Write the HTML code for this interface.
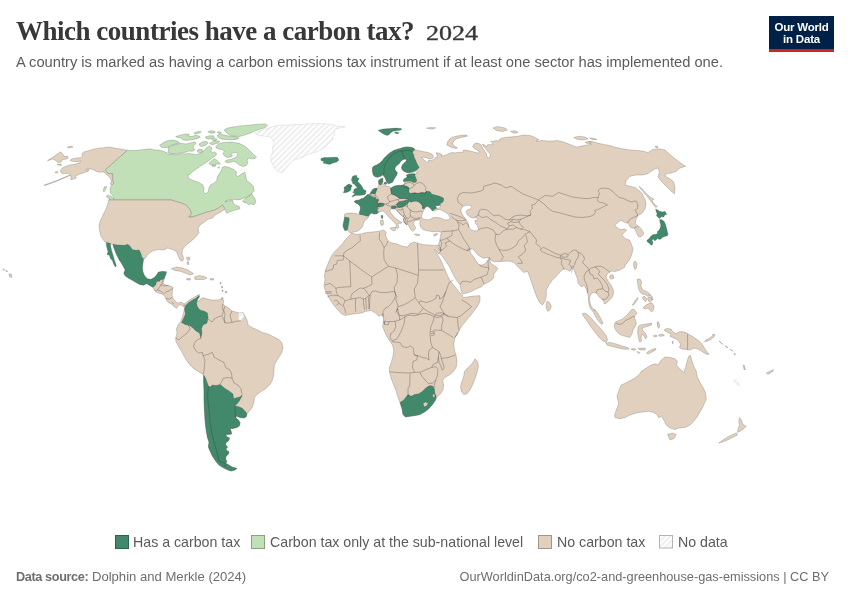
<!DOCTYPE html>
<html><head><meta charset="utf-8">
<style>
html,body{margin:0;padding:0;background:#fff;}
body{width:850px;height:600px;position:relative;overflow:hidden;font-family:"Liberation Sans",sans-serif;}
#title{position:absolute;left:16px;top:14px;font-family:"Liberation Serif",serif;font-weight:bold;font-size:27px;color:#383838;white-space:nowrap;letter-spacing:-0.49px;line-height:34px;}
#sub{position:absolute;left:16px;top:52px;font-size:14.7px;color:#5b5b5b;white-space:nowrap;line-height:20px;}
#logo{position:absolute;left:769px;top:16px;width:65px;height:33px;background:#002147;border-bottom:3px solid #ce261e;color:#fff;font-weight:bold;font-size:11.5px;line-height:12.1px;letter-spacing:-0.2px;text-align:center;box-sizing:content-box;}
#logo span{display:block;}
.leg{position:absolute;top:533px;font-size:14.2px;color:#5b5b5b;white-space:nowrap;line-height:18px;}
.sw{position:absolute;top:535px;width:14px;height:13.5px;box-sizing:border-box;border:1px solid #c9c9c9;}
#src{position:absolute;left:16px;top:569px;font-size:13.1px;color:#6e6e6e;white-space:nowrap;line-height:16px;}
#url{position:absolute;right:21px;top:569px;font-size:12.75px;color:#6e6e6e;white-space:nowrap;line-height:16px;}
#map{position:absolute;left:0;top:0;}
</style></head><body>
<svg id="map" width="850" height="600" viewBox="0 0 850 600">
<defs>
<pattern id="hatch" width="4" height="4" patternUnits="userSpaceOnUse" patternTransform="rotate(45)"><rect width="4" height="4" fill="#fff"/><line x1="1" y1="0" x2="1" y2="4" stroke="#e3e3e3" stroke-width="1.1"/></pattern>
</defs>
<!--MAP-->
<g stroke="#3a3a3a" stroke-opacity="0.45" stroke-width="0.5" stroke-linejoin="round">
<path d="M47.47,160.62 51.35,158.29 55.88,155.06 60.8,151.82 63,154.41 63.91,156.35 67.53,156.35 68.18,158.29 64.94,159.33 61.71,160.24 61.06,162.18 57.82,162.44 55.24,160.24 52.65,158.94 49.41,160.24Z" fill="#e1d0be"/>
<path d="M57.18,164.12 61.06,164.12 61.32,165.41 57.82,165.02Z" fill="#e1d0be"/>
<path d="M55.24,171.88 57.82,171.5 57.82,172.79 55.62,173.05Z" fill="#e1d0be"/>
<path d="M67.53,146.91 72.06,146 72.71,147.29 68.18,147.94Z" fill="#e1d0be"/>
<path d="M127.32,150.27 120.59,148.98 114.12,147.94 108.94,146.91 103.77,147.68 98.59,148.2 93.41,149.24 88.24,150.79 83.71,152.08 81.77,153.77 82.41,155.71 81.12,157.65 76.59,158.04 71.41,158.94 70.12,160.62 73.35,161.53 77.88,161.53 80.47,160.88 79.83,162.82 75.3,164.12 70.12,165.02 65.59,166.32 62.35,168 60.41,170.2 60.8,172.53 63,173.82 66.24,173.18 68.82,173.82 70.77,175.12 67.53,176.67 63.65,178.35 59.12,180.3 53.94,182.24 48.77,184.18 44.24,185.73 44.49,184.83 49.41,183.14 54.59,181.33 59.77,179.26 64.94,177.06 68.82,175.38 71.41,176.41 70.77,179.65 74,179 76.59,177.45 75.3,176.15 78.53,174.47 81.77,173.57 84.35,172.53 88.24,171.24 88.88,169.68 85.65,169.94 86.94,168.91 90.83,168.91 93.41,169.68 96,171.24 99.24,172.27 103.12,171.88 104.41,172.53 106.36,174.47 108.94,176.41 110.89,179 111.27,181.59 110.24,184.18 112.83,184.83 114.12,182.88 112.83,180.3 112.83,176.41 112.57,173.57 109.59,173.57 107,172.53 105.06,170.2Z" fill="#e1d0be"/>
<path d="M135,150.5 143.75,149.5 150,148.75 155,150.02 158.88,150.02 162.76,151.06 166.65,152.61 167.94,154.68 171.82,153.91 175.71,154.94 178.94,154.3 181.53,153.39 185.41,153.91 188.91,153.39 192.53,153.91 195.77,154.68 199,153.91 201.59,152.35 204.83,150.02 206.77,147.44 209.35,145.88 211.94,147.82 210.91,151.06 212.59,153 214.53,151.71 216.86,153.91 214.53,156.5 211.3,158.57 208.06,161.15 204.18,163.74 200.3,166.33 196.41,168.92 192.53,171.77 188.91,175 187.5,174.67 189.17,178.83 193.33,180.5 198.33,182.17 202.5,184.67 204.17,188 203.33,192.17 205.83,193.83 208.33,191.33 209.17,187.17 210.83,184.67 214.17,183 216.67,180.5 217.5,176.33 220.83,171.33 222.5,167.17 225,166.33 230,167.67 234.17,169.67 236.67,172.17 235.83,175.5 238.33,176.33 241.67,173.83 245,172.17 245.83,176.33 246.67,180.5 250,183 253.33,186.33 254.17,190.5 251.67,193.83 248.33,196.33 244.17,198 240,199.67 236.67,199.67 233.33,199.33 228.33,200 225,201.67 228.33,201 232.5,200 233.33,203 235.83,205.5 239.17,206.33 240,208.83 235,210 230,211.67 226.67,213.33 225.33,210.67 224.17,208 222.5,205 220,207 215,210 207.5,212 200,214.5 192.5,217 188.75,217 191.25,213.75 190,209.5 186.25,205 181.25,203 175,201.25 171.25,200 108.75,200 114.12,198.41 112.83,195.83 110.5,193.24 109.98,189.35 110.89,186.12 114.12,182.88 112.83,180.3 112.83,176.41 112.57,173.57 109.59,173.57 107,172.53 105.06,170.2 127.32,150.27Z" fill="#c1e0b8"/>
<path d="M106.36,195.83 108.94,195.18 112.18,197.12 114.12,200.36 114.77,202.3 112.83,201.65 109.59,199.06 107.39,197.77Z" fill="#c1e0b8"/>
<path d="M103.12,190.65 104.41,186.77 106.61,186.51 105.71,189.35 104.03,191.94Z" fill="#c1e0b8"/>
<path d="M159.53,145.24 162.76,143.04 167.29,140.71 173.12,140.06 177.65,141.35 179.59,142.65 175.71,143.94 171.18,145.24 167.94,147.18 164.71,147.82 161.47,147.18Z" fill="#c1e0b8"/>
<path d="M167.94,147.82 171.18,145.88 175.71,144.59 180.88,143.29 186.06,143.94 191.24,142.65 195.12,142 196.15,143.29 193.82,145.24 193.18,147.82 195.12,149.77 192.53,151.32 188.65,151.06 185.41,152.35 181.53,152.61 178.29,153.39 174.41,153.91 170.53,153.65 167.94,153 168.59,150.41Z" fill="#c1e0b8"/>
<path d="M175.71,136.57 180.88,134.88 186.06,133.98 189.3,134.24 188,135.79 191.88,136.57 195.12,135.27 198.35,135.79 200.3,137.08 197.71,138.38 193.82,139.41 189.94,140.06 186.06,140.45 182.82,139.67 180.88,138.12 177.65,137.47Z" fill="#c1e0b8"/>
<path d="M193.82,132.94 198.35,131.39 201.33,131.65 199.65,132.94 195.77,133.98Z" fill="#c1e0b8"/>
<path d="M208.06,131.65 211.3,130.61 214.79,131.39 215.18,132.68 211.94,133.2 209.35,132.94Z" fill="#c1e0b8"/>
<path d="M217.12,132.29 219.71,131.39 221.65,132.94 219.06,133.72Z" fill="#c1e0b8"/>
<path d="M205.47,136.82 209.35,135.79 213.24,135.79 214.53,137.47 211.94,138.77 208.71,139.15 206.12,138.38Z" fill="#c1e0b8"/>
<path d="M211.94,139.41 214.79,138.38 217.12,139.15 215.83,140.45 213.24,140.71Z" fill="#c1e0b8"/>
<path d="M199,143.94 202.24,142 206.12,141.35 208.06,142.65 206.77,144.59 204.18,145.88 201.59,146.53 199.65,145.62Z" fill="#c1e0b8"/>
<path d="M209.35,143.55 212.59,141.74 216.47,140.71 219.71,141.35 218.41,143.04 215.18,143.94 211.94,144.85Z" fill="#c1e0b8"/>
<path d="M197.06,150.41 199.65,149.12 202.24,149.77 202.63,151.71 200.3,152.61 197.71,152.1Z" fill="#c1e0b8"/>
<path d="M217.12,135.27 220.36,134.24 224.88,135.27 230.06,136.18 235.24,136.82 239.12,138.12 236.53,139.41 231.36,139.67 226.18,139.41 221.65,139.15 218.41,137.86Z" fill="#c1e0b8"/>
<path d="M224.24,129.71 227.47,128.02 232.65,127.12 237.83,126.21 245.59,125.44 253.36,124.66 259.83,124.14 265,123.88 267.59,125.18 265,127.76 259.83,129.32 254.65,131 250.77,132.94 246.89,134.24 243,135.53 239.12,136.57 233.94,136.18 230.06,135.27 227.47,133.59 225.53,131.91Z" fill="#c1e0b8"/>
<path d="M215.83,146.53 218.41,143.94 222.3,142.65 226.83,142.26 231.36,142 235.24,142.65 239.12,143.29 243,145.24 246.24,147.18 248.83,149.77 251.42,152.35 254,154.94 256.59,156.88 254.65,158.82 251.42,158.57 248.18,158.18 247.14,160.38 247.92,163.35 246.24,165.55 243,166.59 239.77,165.3 237.18,163.35 234.59,161.41 231.36,162.06 227.47,162.71 224.88,161.67 226.83,160.12 230.71,159.47 233.94,158.18 237.18,156.24 237.83,153.91 235.89,152.35 232.65,153 230.71,154.94 232.65,155.59 231.36,156.88 227.47,157.53 224.88,156.24 222.94,153.91 224.24,151.06 222.3,149.51 219.06,149.12 216.47,148.21Z" fill="#c1e0b8"/>
<path d="M208.71,163.35 211.94,160.38 214.53,158.82 217.12,160.38 219.71,162.97 220.36,164.26 217.12,164 213.88,164.65 210.65,165.04Z" fill="#c1e0b8"/>
<path d="M211.94,165.55 215.83,165.04 215.18,166.33 212.59,166.85Z" fill="#c1e0b8"/>
<path d="M217.77,167.24 219.45,166.85 219.06,168.53Z" fill="#c1e0b8"/>
<path d="M242.5,201.33 245.83,198 250,195.5 251.67,193.83 253.33,196.33 255,198.83 255.83,202.17 254.17,204.67 250.83,203.83 249.17,205 246.67,203 244.17,202.67Z" fill="#c1e0b8"/>
<path d="M278.24,125.29 288.82,125.06 299.41,124.47 311.18,123.65 322.94,123.65 332.35,124.47 337.06,126 345.29,126.82 339.41,128 335.29,129.18 334.12,132.12 334.71,135.06 332.35,136.82 332.94,139.76 330,141.53 327.65,144.47 325.29,147.41 320.59,149.76 315.88,152.12 311.18,153.29 306.47,155.06 301.76,157.41 297.06,159.18 292.94,160.35 290,163.29 287.65,166.24 285.29,169.18 282.94,172.12 280.59,172.71 277.65,170.94 274.71,168.59 272.94,165.06 271.18,161.53 270.59,158 271.76,154.47 272.94,150.94 272.35,147.41 274.12,144.47 273.53,141.53 271.76,138.59 269.41,136.82 265.29,136.24 260.59,135.65 255.88,134.47 254.71,132.71 258.24,131.53 262.94,129.76 268.82,128 273.53,126.47Z" fill="url(#hatch)" stroke="#d2d2d2" stroke-opacity="1"/>
<path d="M108.75,200 171.25,200 175,201.25 181.25,203 186.25,205 190,209.5 191.25,213.75 188.75,217 192.5,217 200,214.5 207.5,212 215,210 220,207 222.5,205 225,208.75 223.75,210 220,212.5 215,215 212.5,218 207.5,219.5 203.75,222.5 200,225 198,228.75 199,232.5 196.25,236.25 192.5,240 188.75,243 185,246.25 182.5,249.5 182,253.75 183.75,258.75 182.5,261.25 180,260 178,255.5 176.25,251.25 172.5,249.5 167.5,248 163.75,250 158.75,249.5 153.75,250.5 150,252.5 147,255.5 145,258.75 143,258.75 141,255.5 139,252 135,251.5 131.25,249 128.75,246.5 122.5,246.5 115,246 112.5,244.5 108.75,243.5 105,242 102.5,238.75 100.5,235 99.5,230 99,225 100.5,220 103,215 105.5,210 107.5,205Z" fill="#e1d0be"/>
<path d="M106.33,242.5 110.33,243.33 110.83,246.67 111.67,250.83 113,255 114.17,259.17 115.33,262.5 116.33,265.83 115.33,267 113.67,264.17 112.5,260.83 110.33,258.33 109.17,255 107,254.67 108,251.67 107,248.33 106.33,245.33Z" fill="#41896a"/>
<path d="M113,244.17 117.5,245 125,245.33 127.5,244.17 129.67,245.83 132.5,249.67 135.83,250.33 139.17,250 140.83,253.33 141.67,256.67 143.67,259.17 143,263.33 142.5,267.5 143,271.67 144.67,275.83 147.5,278.67 150.83,279.17 154.17,277.5 156.67,274.67 158.33,272 162.5,271.33 166.67,271.67 165.83,274.67 164.67,277.5 164.17,279.17 162.5,279.17 160.33,279.67 160,281.33 156.67,281.67 155.83,285 153,287.5 150,285.83 146.67,283.67 143.67,285.33 140,284.67 135.83,282.5 131.67,280 128,278 125,275.83 123.67,273.33 125,270 123.33,266.67 121.33,263.33 119.17,260 117.5,256.67 115.83,253.33 114.67,250 113.33,246.67Z" fill="#41896a"/>
<path d="M153,287.5 155.83,285 156.67,281.67 160,281.33 160.33,279.67 162.5,279.17 164.17,279.17 163,283.33 165.83,285 170,285.83 173,287.5 172.5,290.83 172,294.17 172.5,297.5 174.17,300 175.83,302 178.33,303 180.83,302 183,303 184.67,304.67 184.17,307 182.5,305.83 180,304.67 178.33,305.83 176.67,308.33 174.17,306.67 171.67,304.17 168.33,302.5 166.33,300 165,296.67 162.5,294.17 158.33,293 155,291.33Z" fill="#e1d0be"/>
<path d="M171.25,268.75 176.25,267 182.5,268 188.75,270.5 193.75,273.75 190,275 185,273 180,271.25 175,270.5Z" fill="#e1d0be"/>
<path d="M194.5,277 198.75,275.5 203.75,276.25 207,278 203.75,279.5 198.75,279.5 195,279.5Z" fill="#e1d0be"/>
<path d="M186.25,278.75 190,278.25 190.5,280 187,280Z" fill="#e1d0be"/>
<path d="M210,278.75 213.5,278.5 213.5,280 210.25,280Z" fill="#e1d0be"/>
<path d="M186.25,257.5 189.5,257 190,259.5 187.5,260.5Z" fill="#e1d0be"/>
<path d="M187,262 188.5,261.75 188.75,264.5 187.5,264.5Z" fill="#e1d0be"/>
<path d="M2.5,269 4.5,269.5 4,270.5Z" fill="#e1d0be"/>
<path d="M5.5,270.5 7.5,271 7,272Z" fill="#e1d0be"/>
<path d="M9,273.75 11.5,274.5 11.75,277.5 9.5,277Z" fill="#e1d0be"/>
<path d="M220,282.5 221,282.5 221,284 220,284Z" fill="#e1d0be"/>
<path d="M221.5,286.25 222.5,286.25 222.5,288 221.5,288Z" fill="#e1d0be"/>
<path d="M222,290 223,290 223,291.5 222,291.5Z" fill="#e1d0be"/>
<path d="M225.25,291.5 227,291.25 227,293 225.5,293Z" fill="#e1d0be"/>
<path d="M221,298 223,297.5 223.25,299.25 221.25,299.5Z" fill="#e1d0be"/>
<path d="M185,303.6 188,301 192,298.4 197,295.6 199.6,294.4 199,297 197,299.6 198,301.6 200.4,299 203,297.6 207,299 212,300 218,300 222,299 224,301 223,304 225,306 229,308 232,311 236,312 239,313 243,312.4 245,316 247,320 248,325 252,327.6 258,330 262,332.4 268,334 274,337 279,339.6 282,343 283,348 281.6,353 279,357 276.4,361 274.4,365 274,370 273.6,376 272,381 269.6,385 266,388.4 261,391.6 257,394.4 254.4,397.6 254,402 252.4,407 249.6,411 247,413.6 246.4,416.4 244,418 240,417.6 236.4,416 235.6,418 238,419.6 240,422.4 239.6,425.6 237,427.6 233,428.4 230,428.4 231,431 231.6,434 228.4,434.4 225.6,434.4 227,437 229.6,438 228.4,441 226,442.4 225.6,445 227.6,447 226,449 227,451 229,451.6 228.4,454 226,456.4 225.6,459 227,462 225,463 228,464.4 232,467 237,468.4 235,470 231,471 227,469.6 223,467.6 219,465 215.6,461 212.4,456 210,451 208.4,447 209,442 207.6,438 206.4,432 205.6,426 205,420 204.4,410 204,400 204,390 203.6,382 203.6,375 202.4,374 199,372 194,369 190,365 187,361 184,356 181,350.4 178.4,346 176,342 175.6,338 177,333 176.4,329 178,325 180.4,322 182,318 183.6,313 184.4,308 184,304Z" fill="#e1d0be"/>
<path d="M198.75,295.5 196.25,298 192.5,300 188.75,302.5 185.5,305.5 184.5,309.5 185.5,313.75 183.75,318 181.5,322.5 185,324.5 189.5,325.5 193,328 196.25,331.25 199.5,333 200.75,338 202,333.75 201.5,328.75 203,325 207,323 208,318 207.5,313 204.5,311.25 200,310 197.5,307 196.5,303 197.5,299.5 199.5,297Z" fill="#41896a"/>
<path d="M239,313 243,312.4 244,317 241,321 239,320 238,317Z" fill="url(#hatch)" stroke="#d2d2d2" stroke-opacity="1"/>
<path d="M203.6,375 205.6,378 207,382 208.4,386 210,387 212.4,385 216,385.6 220.4,384.4 222,386 225,388.4 229,391 233,394 233.6,398.4 236,398 239.6,397 242.4,395 241,398 239,401.6 236.4,404.4 235,406 238,406.4 242,408 245,411 247,413.6 246.4,416.4 244,418 240,417.6 236.4,416 235.6,418 238,419.6 240,422.4 239.6,425.6 237,427.6 233,428.4 230,428.4 231,431 231.6,434 228.4,434.4 225.6,434.4 227,437 229.6,438 228.4,441 226,442.4 225.6,445 227.6,447 226,449 227,451 229,451.6 228.4,454 226,456.4 225.6,459 227,462 225,463 228,464.4 232,467 237,468.4 235,470 231,471 227,469.6 223,467.6 219,465 215.6,461 212.4,456 210,451 208.4,447 209,442 207.6,438 206.4,432 205.6,426 205,420 204.4,410 204,400 204,390 203.6,382Z" fill="#41896a"/>
<path d="M344.25,214.38 347.38,213.12 351.75,213.12 355.5,213.5 359.88,214.38 359.25,212.75 360.25,210 360.5,207.25 359.25,205 357.38,203.75 355.25,202.75 354.25,201.25 356.75,200.25 359.25,200 361.12,198.75 363,198.5 364.88,196.88 367.38,194.75 369.25,194.38 370.5,192.5 372,190.25 374.25,188.5 376.75,188.5 378,187.5 378.62,185.62 378.62,182.5 378.62,182.5 378.62,180 380.5,178.75 382.38,178.12 383,180 382.38,181.88 383,183.75 384.25,185.25 386.12,186 389.25,186.5 391.12,188.12 394.25,186.25 398,185.62 401.12,185.62 404.25,185 404.5,182.5 403.25,181.25 404,179 406.12,178.12 407.38,176.88 406.5,175 409.25,174 412.75,173.75 415.25,174 417.5,173.12 415.62,171.5 411.88,172.5 407.5,172.75 410.5,172.25 406.75,172.5 404.25,171.5 402.38,170 401.5,167.5 402.38,165 404.25,163.12 406.12,161.25 406.75,159.75 404.88,159 402.75,159.75 400.5,161.5 399.25,163.5 397,165.25 395.25,167.25 394.88,169.38 396.12,171.25 397.38,173.12 396.5,175.62 394.88,177.75 393.62,180 392.75,181.88 390.5,183.12 388.62,183.75 387,182.5 386.12,180.62 385.25,178.12 384,176.25 383,174.75 381.75,175.62 379.88,176.5 377.38,177.25 374.88,176.5 373.25,175 372.75,172.5 372.38,170 372.38,168.12 373.62,166.25 376.75,165 379.88,163.12 382.38,160.62 384.25,158.12 386.12,156.25 388,154.38 390.5,152.5 393.62,150.62 396.75,149.38 400.5,148.5 403,147.5 406.75,146.88 410.5,147.25 413.62,148.12 414.88,149.75 418.75,150.62 423.12,151.5 428.12,152.5 431.88,154 433.5,156 432.75,158.12 430.62,159 428.12,158.5 425.62,157.5 423.12,157.25 421.25,157.5 423.12,159 425,160.62 426.88,162.5 428.75,161.88 428.5,160.25 431.25,160.62 433.5,159.38 435.25,157.5 437.5,156.88 436.88,154.75 436.25,152.75 438.75,153.12 441.88,154.38 441.25,156.25 443.75,155.62 446.88,154.38 450,153.12 453.12,152.25 454.38,153.12 457.5,152.5 461.25,152.25 463.75,151.88 463.12,150.38 465,150 468.12,150.62 471.25,151.25 475,152.25 478.12,153.12 479.38,151.88 476.88,150 474.38,148.5 472.5,146.88 473.75,144.38 475.62,143.12 478.75,143.5 481.25,145 482.5,148.12 484.38,150.62 486.25,153.12 486.88,156.25 488.12,158.12 490,156.88 490.25,154.38 488.75,152.25 486.88,150.62 485.25,148.12 483.5,146.25 482.5,144 484.75,145 486.25,146.5 487.5,144.75 490,144.38 493.12,145 492.5,143.12 490.62,141.5 493.12,141.25 496.25,140.62 498.75,141.25 499.38,139.38 501.88,138.12 506,137.25 510,137 517.5,136.25 523.75,135 530,135.5 535,137.5 538.75,139.5 536.25,141.25 542.5,140.5 550,141.25 557.5,140.5 563.75,142 570,144.5 576.25,147 581.25,146.25 586.25,145 591.25,144.5 587.5,142 591.25,141.25 597.5,143 603.75,144.5 610,145.5 616.25,147.5 622.5,148.75 630,150 637.5,150.5 643.75,151.25 648,152.5 652.5,149.5 658.75,148.75 665,150 670,154.5 675,158.75 680,162.5 685.5,166.25 680,168 676.25,171.25 671.25,173 666.25,173.75 665,176.25 670,178.75 673.75,182 675,187.5 674.5,193.75 671.25,191.25 667.5,187.5 663.75,183.75 660.5,180.5 658,177 659.5,172 658,168 655,168.75 651.25,171.25 647.5,173.75 642.5,175 636.25,175 630,176.25 626.25,180.5 625,185 630,186.25 635,187.5 640,191.25 641.92,193.33 643.44,196.25 645.07,199.75 646,203.25 645.77,206.17 644.84,209.09 643.09,212 641.34,213.75 639,214.92 637.6,215.74 637.25,217.25 636.09,219.59 635.27,221.92 635.74,223.9 637.25,225.42 639,226.59 640.75,228.34 642.5,230.67 643.67,233 643.09,234.75 641.34,236.5 639,237.09 637.25,234.75 636.09,231.84 634.92,229.5 634.1,227.75 632,228.34 630.25,227.17 629.09,224.84 627.34,223.09 625,222.5 622.67,221.34 620.57,220.4 618.58,221.92 616.25,223.9 614.73,225.77 616.83,227.17 619.17,228.92 621.5,229.5 624.42,228.92 626.75,230.09 625,231.84 623.25,233.59 622.08,235.34 623.84,237.09 625.59,238.84 629.5,240 631.25,243.75 633,248.75 632,253.75 630,258.75 627.5,262.5 625,265 625,267 620,270 615,271.6 612,271 610,272 607,274 606,277 608,281 611,285 613,289 613.6,293 612.4,297 609.6,300 606.4,303 604.4,304 603.6,301 602,299 599.6,297.6 598,295 596,293 593.6,292.4 591.6,293.6 590,296 589.6,300 590.4,304 591.6,307 593.6,309 596,311 598,313.6 600,317 601.6,320 603,323 602,324.4 599.6,322.4 597,319 595,315.6 593.6,312.4 591.6,310 590,308 589,304.4 588.4,300 588.4,296.4 587.6,293 586.4,289.6 585,286.4 583.6,285 582.4,287 580,285.6 578,283 577.6,279 576,275 574.4,271 572.4,266 571.25,268.75 570,271.25 567.5,270 564.5,268.75 562,270 559.5,272.5 556.25,276.25 552.5,280 548.75,285 546.25,290 546.25,296.25 545,301.25 542.5,305 540,303 537.5,298.75 535,292.5 532.5,285 530,277.5 527.5,271.25 523.75,272.5 521.25,270 517.5,266.25 513.75,262.5 510,261.25 505.88,261.18 501.18,261.53 497.65,261.76 493.53,261.53 490.59,260 490,258 487.06,257.65 483.53,258.24 480,256.47 477.06,254.12 474.71,251.18 472.35,248.82 470,249.41 470.12,251.65 470.94,253.53 472.59,255.53 474.35,258 475.53,260.35 477.29,262.24 478.71,264.59 481.18,265.29 484.47,264.12 486.59,262 488.24,259.41 489.41,257.53 489.65,259.41 490.59,262.94 492.94,264.71 496.47,267.06 497.65,268.82 495.29,272.35 493.53,274.71 494.12,277.06 491.76,280 488.24,282.35 484.12,284.12 481.18,287.06 476.47,288.82 471.76,291.18 467.06,292.94 462.12,294.12 461.18,291.18 460.59,287.65 460,284.71 457.65,281.76 455.29,278.24 453.53,275.29 451.76,271.76 450.59,268.82 448.82,265.88 446.47,262.35 444.12,258.82 441.76,255.29 439.41,253.53 440.24,251.18 440.94,249.41 438.5,245 439.38,241.88 440,238.75 440.62,235.62 441.25,232.5 440,231.88 437.5,231.25 433.75,231.88 430,231.25 426.25,230.62 422.75,229.38 420.62,226.88 419.75,223.75 420,221.25 418.75,219.75 416.25,220.25 414.38,221.25 413.12,223.12 414.38,225.62 415.62,228.12 414.38,230 412.5,231.25 410.62,229.38 409.38,226.88 408.12,224.38 406.5,224.5 404.5,223 403.5,220 404,217.5 402,215.5 399,213 397,210.5 394,209 392.12,208.5 389.88,210 390.5,212.5 393,215.62 396.12,218.75 399.88,221.25 402,222.5 400.5,223.75 398.62,223.12 398,225 399,227.25 397.38,228.75 396.12,227.25 396.5,225 394.25,222.5 391.75,220 389.25,217.5 386.75,214.75 384.88,212.25 382.38,211 379.88,211.88 378.62,212.25 376.75,213.75 374.25,214 371.75,213.12 369.5,214.38 368.62,216.25 368,218.12 365.5,220 363.62,222.5 363,225 362,227.5 359.88,229.38 357.38,231.25 354.25,231.88 351.5,232.5 349.88,233.12 348.62,231.25 347.38,230 344.88,230.62 344,228.75 343,225.62 343.62,222.5 344.25,219.38 344.5,217.25Z" fill="#e1d0be"/>
<path d="M422.25,213.75 423.75,210 426.25,206.88 428.75,206.88 431.25,209.38 433.12,211.25 436.88,210 440,209.38 443.12,211 446.25,212.75 448.75,215 450.25,217.5 448.75,219.75 445,220 440.62,218.12 436.25,217.25 432.5,217.75 429.38,219.75 426.25,219.75 423.12,219 421.5,216.88Z" fill="#ffffff"/>
<path d="M435.25,206.88 436.5,205.62 440,205 440.62,206.88 438.12,208.5 436.5,208.12Z" fill="#ffffff"/>
<path d="M460.83,210 462.5,206.67 465.83,205.33 470,205.33 472,206.67 470.83,208.67 467.5,209.67 465.83,211.67 467.5,215 470.83,217.5 474.17,218.33 475.33,216.67 477.5,219.17 476.67,220.83 475,220 475.33,223.33 477.5,225.83 478.67,229.17 477.5,230.83 474.17,230.83 470.83,229.67 468.67,226.67 468,222.5 465.83,219.17 463.33,215.83 461.67,213.33Z" fill="#ffffff"/>
<path d="M380.5,220.25 383,220 383.62,222.5 383,225.25 381.12,225.25 380.5,223.12Z" fill="#e1d0be"/>
<path d="M389.88,228.12 393,227.5 396.12,227.25 395.75,229.38 394.5,231 391.75,230Z" fill="#e1d0be"/>
<path d="M414.38,234.38 416.88,234 420,234.75 419.38,235.62 416.25,235.62Z" fill="#e1d0be"/>
<path d="M433.12,235 435,234 437.5,233.12 436.88,235 434.75,236.25Z" fill="#e1d0be"/>
<path d="M446.88,145 447.5,141.88 449.38,139 452.5,137.25 456.88,136 461.88,135.25 466.88,135 467.25,136.25 463.75,136.88 460,137.75 456.25,139 453.75,141 452.5,143.5 454.38,146.25 457.5,147.75 456.25,148.5 452.5,147.75 449.38,146.5Z" fill="#e1d0be"/>
<path d="M426.5,128.12 430.62,127.5 435.62,127.75 433.75,128.75 430.62,129Z" fill="#e1d0be"/>
<path d="M493,128 497.5,126.5 505,128 507.5,130 502.5,131.5 496.25,130.5Z" fill="#e1d0be"/>
<path d="M510.5,131.25 515,130.75 518,132.5 513.75,133.25Z" fill="#e1d0be"/>
<path d="M573.75,137.5 578.75,136.25 585,137 588,139 582.5,140 577,139.25Z" fill="#e1d0be"/>
<path d="M589.5,138 593.75,138.25 597,139.5 592,139.5Z" fill="#e1d0be"/>
<path d="M585,142 590,141.5 591.25,143 587,143.5Z" fill="#e1d0be"/>
<path d="M655,146.5 657.5,146 658,147.5 655.75,147.5Z" fill="#e1d0be"/>
<path d="M547,301.25 549.5,302.5 551.25,306.25 550,310 547.5,311.25 546,307.5 546.25,303.75Z" fill="#e1d0be"/>
<path d="M320.75,158.75 323.62,157.5 328,157.5 333,157.25 337.38,157.25 339,160 336.75,161.88 333,163.12 329.88,164.38 326.12,163.75 323,163.12 324,161.5 321.12,160.62Z" fill="#41896a"/>
<path d="M378,130.25 383,129 389.25,128.5 395.5,128.12 401.12,128.5 401.75,129.75 398,130.62 393,131.25 391.12,132.5 389.25,134.38 387.38,135.62 384.25,134.38 381.12,132.5Z" fill="#41896a"/>
<path d="M394.25,132.5 396.75,131.88 399.25,133.12 396.75,134Z" fill="#41896a"/>
<path d="M372.38,168.12 373.62,166.25 376.75,165 379.88,163.12 382.38,160.62 384.25,158.12 386.12,156.25 388,154.38 390.5,152.5 393.62,150.62 396.75,149.38 400.5,148.5 403,147.5 406.75,146.88 410.5,147.25 413.62,148.12 414.88,149.75 412.38,151.88 413.62,154.38 414.25,157.5 415.5,160 416.75,163.12 418,165.62 419.25,167.25 417.38,169.38 414.25,171.25 410.5,172.25 406.75,172.5 404.25,171.5 402.38,170 401.5,167.5 402.38,165 404.25,163.12 406.12,161.25 406.75,159.75 404.88,159 402.75,159.75 400.5,161.5 399.25,163.5 397,165.25 395.25,167.25 394.88,169.38 396.12,171.25 397.38,173.12 396.5,175.62 394.88,177.75 393.62,180 392.75,181.88 390.5,183.12 388.62,183.75 387,182.5 386.12,180.62 385.25,178.12 384,176.25 383,174.75 381.75,175.62 379.88,176.5 377.38,177.25 374.88,176.5 373.25,175 372.75,172.5 372.38,170Z" fill="#41896a"/>
<path d="M406.5,175 409.25,174 412.75,173.75 415.25,174 414.88,175.62 415.5,177.5 413,177.75 410.5,177.25 408.25,177.5 407,176.5Z" fill="#41896a"/>
<path d="M403.25,181.25 404,179 406.12,178.12 407,176.5 408.25,177.25 410.5,177 413,177.5 415.5,177.25 416.75,180 416.12,182.25 413.62,182.5 411.12,181.25 408,181.25 405.5,181.5Z" fill="#41896a"/>
<path d="M378.82,180.59 379.71,179.71 381.18,178.82 382.65,178.24 382.94,179.41 382.65,180.59 383.24,181.47 382.06,182.65 381.76,184.12 380.88,185 379.71,184.71 378.82,183.53 378.53,182.06Z" fill="#41896a"/>
<path d="M384,182.5 386.12,181.88 387,183.5 385.5,184.75 384.25,184Z" fill="#41896a"/>
<path d="M352.65,176.18 354.41,175.59 357.06,175.59 356.76,176.76 357.65,177.94 359.12,178.24 358.53,179.71 357.65,181.47 358.53,182.35 359.71,183.53 360.88,185 362.06,186.47 362.94,188.24 363.82,189.71 365.59,190.29 366.18,191.18 365.59,192.35 365.88,193.53 365,194.41 363.24,195 360.88,195.18 358.53,195.41 356.18,195.29 354.41,195.88 352.65,196.76 351.76,196.47 352.94,195.41 354.12,194.41 355,193.53 353.24,192.65 352.65,192.06 354.12,191.18 353.82,189.71 354.71,188.82 356.47,188.24 357.06,187.35 356.18,186.47 355,185.29 354.41,184.12 353.24,183.82 352.35,183.24 352.65,182.06 351.76,180.88 351.47,179.41 352.06,177.65Z" fill="#41896a"/>
<path d="M343.24,192.65 343.82,191.47 344.41,190.29 344.12,188.82 344.12,187.35 345.29,186.47 346.47,185.59 347.65,184.71 348.82,184.12 350.29,184.41 351.76,185.29 351.76,186.76 350.88,187.94 351.18,189.12 350.59,190.29 349.41,191.18 347.94,191.88 346.47,192.47 344.71,192.82Z" fill="#41896a"/>
<path d="M354.25,201.25 356.75,200.25 359.25,200 361.12,198.75 363,198.5 364.88,196.88 367.38,194.75 369.25,194.38 371.12,196 373.62,197.5 376.12,198.75 378.62,199.75 377.75,201.88 376.75,203.75 375.75,205.62 376.75,206.88 377.75,208.5 377.38,210.62 378.62,212.25 376.75,213.75 374.25,214 371.75,213.12 369.5,214.38 368.62,216.25 366.12,216 363,215 359.88,214.38 359.25,212.75 360.25,210 360.5,207.25 359.25,205 357.38,203.75 355.25,202.75Z" fill="#41896a"/>
<path d="M381.12,215.62 382.38,215 383,216.88 382.38,218.75 381.25,218.12Z" fill="#41896a"/>
<path d="M375.8,205 377.5,203.5 380.5,203 383,203.5 384.5,204.5 383.5,206 381,206.8 378.5,207.2 376.5,206.8Z" fill="#41896a"/>
<path d="M370.29,193.53 371.18,192.06 372.06,190.29 373.24,189.12 375,188.35 376.88,188.12 376.76,189.71 376.18,191.18 375.59,192.65 375,193.82 373.82,194.12 372.65,193.53 371.47,193.82Z" fill="#41896a"/>
<path d="M374.41,197.06 375.47,197.18 375.59,198.53 374.71,198.71Z" fill="#41896a"/>
<path d="M390.5,188.5 392.5,187 395.5,185.8 399,185.2 403,185.5 406.5,186 408.5,187 409.2,189.5 408.8,191.5 410,193.5 410.5,196 409.5,198 408.5,199.5 407,198.8 403.5,198.5 400,198.5 397,196.5 394.5,195 391.5,194 391,191Z" fill="#41896a"/>
<path d="M396.8,206.2 396.5,204.5 398,202.8 399.5,202 402,201.5 405,200.8 407.5,200 408.8,200.5 409.2,201.8 407.8,203.5 405.5,205.5 402.5,206.8 399.5,207.5 397.5,207.2Z" fill="#41896a"/>
<path d="M391.2,206.8 393.5,206 396.2,206.2 396.5,207.5 394.5,208.5 392.2,209 391,208Z" fill="#41896a"/>
<path d="M344.5,217.25 346.12,217.25 349,217.75 349.25,220 348.62,223.75 348,227.5 347.38,230 344.88,230.62 344,228.75 343,225.62 343.62,222.5 344.25,219.38Z" fill="#41896a"/>
<path d="M408.5,199.5 409.5,198 410.5,196 410,194 412,193.2 415,192.8 418,193.5 422,192.5 424.5,193 426,191.5 428.5,191.2 430.5,192 431.5,194 435,195 439,196 442,197.2 443.8,198.5 443.5,201 442,202.8 440,203.5 440.5,205 438,205.8 436,205.5 435.5,206.8 437,208 435,209 433.5,210 432.5,211 431.5,209.5 430,208 429,206.8 427,206.2 425.5,206.8 424.5,208.5 423,209 422,208 422.8,206.2 421.5,204.5 420,202.8 418,201.5 415.5,201.2 413,201.5 411,202.2 409.5,201.5 408.8,200.5Z" fill="#41896a"/>
<path d="M655.59,208.93 657.34,209.75 659.67,211.27 662.59,212.08 664.92,211.27 666.9,214.42 664.92,214.77 663.75,217.1 661.42,216.75 659.67,218.5 657.92,217.34 656.4,215.59 657.1,213.84 656.17,211.5Z" fill="#41896a"/>
<path d="M659.67,219.44 662,219.67 664.1,221.42 665.5,224.34 666.44,227.84 667.25,231.34 668.07,233.9 667.25,235.77 664.92,236.59 662.59,237.17 660.84,238.92 659.09,239.5 657.34,238.34 656.17,240.09 654.42,240.67 653.25,238.92 652.08,240.09 652.9,242.42 652.43,244.75 650.92,245.34 649.75,243.59 648,242.42 646.6,240.67 648,239.5 649.75,237.75 651.27,235.77 653.25,234.6 655.59,234.25 657.34,233.67 657.57,231.34 659.09,230.17 660.25,227.84 660.84,224.92 659.9,222Z" fill="#41896a"/>
<path d="M639.25,186.42 641.58,188.17 644.5,191.67 647.42,194.58 650.57,197.27 653.84,199.25 652.08,200.42 653.25,202.75 655.59,205.08 657.34,206.6 655.59,207.42 653.25,204.5 650.57,201 648,197.5 645.08,194 642.17,190.5 639.83,187.93Z" fill="#e1d0be"/>
<path d="M352,233 356.25,234.5 361.25,233.75 366.25,232.5 372.5,232 378.75,231.25 383.75,230 386.25,232 385.5,235.5 387.5,240 390,242.5 396.25,243.75 402.5,246.25 407.5,247 410,243.75 413.75,242 417.5,243 422.5,244.5 428.75,245 435,245.5 438.75,245 438.82,245.06 440.94,249.41 439.76,252.94 438.82,254.12 436.47,251.18 434.71,249.06 434.35,249.76 436.24,252.35 437.65,254.71 439.41,257.65 441.76,262.35 443.53,266.47 445.29,270 446.47,273.53 448.24,277.06 450,280.59 452.35,283.53 454.71,286.47 457.06,289.41 459.41,292.35 460.59,294.12 462.35,295.29 462.94,297.65 467.06,297.06 472.94,296.12 480,295.65 480,301.25 477.5,306.25 473.75,311.25 470,316.25 466.25,320.5 462.5,325 459.5,329.5 457.5,333.75 455,337.5 458,332.5 455,337.5 453.75,343.75 454.5,350 456.25,356.25 457,361.25 456.25,367 453.75,371.25 450,374.5 445,377.5 442.5,380.5 443.75,385 443,390 440.5,393.75 437.5,396.25 435.5,400 432.5,404.5 428.75,408.75 424.5,412 420,414.5 415.5,415.5 410,416.25 405.5,417 403,414.5 402,408.75 400,402.5 398,397.5 396.25,391.25 393.75,385 391.25,378.75 389.5,372.5 389.5,367.5 391.25,362.5 393,356.25 393.75,350 392.5,345 390,341.25 387.5,337.5 385,332.5 382.5,326.25 383.75,320 382.5,313.75 384.5,323.75 385,318.75 382.5,315 378.75,316.25 375.5,313 371.25,310.5 366.25,311.25 361.25,313 355,313.75 350,314.5 345,315.5 341.25,313.75 338,310 334.5,306.25 332,302.5 328.75,297.5 327,293.75 325,290 323.75,285.5 325,280 324.5,275 325.5,270 327.5,265 329.5,260 332,255 335,251.25 338.75,247.5 342.5,243.75 345,240 348.75,236.25Z" fill="#e1d0be"/>
<path d="M475,358.75 477.5,361.25 478.5,366.25 477,372.5 475,378.75 472.5,385 470,390 467,393.75 463.75,394.5 461.25,391.25 460.5,386.25 462,381.25 463.75,376.25 464.5,371.25 467.5,368 471.25,364.5 473.75,361.25Z" fill="#e1d0be"/>
<path d="M400,402.5 403.75,400 408,394.5 411.25,396.25 414.5,394.5 418.75,393.75 422.5,391.25 426.25,387.5 430,385.5 433,386.25 434.5,390 435,393.75 436.25,396.25 435.5,400 432.5,404.5 428.75,408.75 424.5,412 420,414.5 415.5,415.5 410,416.25 405.5,417 403,414.5 402,408.75Z" fill="#41896a"/>
<path d="M423,403.75 425.5,402 428,403 427,405.5 424.5,407Z" fill="#e1d0be"/>
<path d="M432.5,394.5 434.5,394 435,397 433,397.5Z" fill="#e1d0be"/>
<path d="M614.5,415 616.25,410 618.75,403.75 617,396.25 619.5,388.75 621.25,385 627.5,382 633.75,378.75 638.75,375 641.25,371.25 646.25,368 651.25,365 655,363.75 658,365 661.25,360 665,357 670,357.5 675,358.75 677.5,361.25 676.25,365 680,368.75 683.75,372.5 685.5,367.5 687,361.25 688.75,356.25 690.5,355.5 692,361.25 693.75,366.25 696.25,371.25 697.5,377.5 700,382.5 703,387.5 705.5,392.5 706.25,398.75 703.75,405 700.5,411.25 697.5,416.25 693.75,421.25 690,425 685,427.5 678.75,428 675,429.5 670,428 666.25,425 663.75,420 661.25,416.25 658.75,418 657.5,415 653.75,412.5 648.75,411.25 642.5,412 636.25,413 630,415 625,417.5 619.5,418.75 615,417.5Z" fill="#e1d0be"/>
<path d="M667.5,434.5 672.5,433 676.25,434.5 673.75,438.75 670,440Z" fill="#e1d0be"/>
<path d="M739.5,417.5 741.25,420 743,424.5 746.25,426.25 743.75,428.75 740,431.25 737.5,432.5 738,428.75 739.5,425 738.75,421.25Z" fill="#e1d0be"/>
<path d="M732.5,434.5 736.25,433 737.5,435 732.5,437.5 727.5,440 722.5,442 718.75,443 723.75,439.5 727.5,437Z" fill="#e1d0be"/>
<path d="M743.25,365 744.5,365.5 745.25,370 744,369.5Z" fill="#e1d0be"/>
<path d="M766.25,373 770,371.25 773.75,369.5 772.5,371.5 768,374.5Z" fill="#e1d0be"/>
<path d="M734.5,379.5 739.5,384.5 738.5,385.75 733.5,380.75Z" fill="url(#hatch)" stroke="#d2d2d2" stroke-opacity="1"/>
<path d="M610,275.6 612,274.4 614,276 613.6,278.4 611,279.2 609.4,277.6Z" fill="#e1d0be"/>
<path d="M633.6,262.4 635.6,261 637,264 636.4,268 635,269.6 633.6,266.4Z" fill="#e1d0be"/>
<path d="M637,279.6 640,279 641.6,282 641,286 642.4,290 646,291 649,293 650,295.6 648,296.4 645,294.4 642,294 640,292 638.4,288 637.6,283.6Z" fill="#e1d0be"/>
<path d="M642.4,297 645,296.4 647,299 645.6,301.6 643.6,300Z" fill="#e1d0be"/>
<path d="M647.6,298 650,297 652,300 650.4,302.4 648.4,301Z" fill="#e1d0be"/>
<path d="M650,294.4 652,296.4 653.2,300 651.8,299.2Z" fill="#e1d0be"/>
<path d="M643.6,307 646,305 649,303.6 652,303 654,306 653.6,309.6 651.6,312 649.6,310 648,308 645.6,309 643.6,308.4Z" fill="#e1d0be"/>
<path d="M632.4,305 635,301 637.6,297.6 638,299 635.6,302.4 633.2,305.6Z" fill="#e1d0be"/>
<path d="M614.4,324 615.6,322 619,320.4 622.4,319 625.6,316.4 628.4,313.6 631,310 633.6,309 635.6,311 637,313.6 634.4,316 635,319 636.4,323 635,327 633,330 632,334 629.6,337.6 626,336.4 622.4,335.6 619,334 616.4,331 614.4,327.6Z" fill="#e1d0be"/>
<path d="M638,327 640,325 644,324.4 649,323.6 651.6,323 652,324.4 649,326 645,327 642,328.4 643,331 645.6,333.6 647,336.4 645.6,339 644,336 642,334 641,338 641.6,341 639.6,342 638.4,338 637.6,333Z" fill="#e1d0be"/>
<path d="M657,322.4 658.4,321.6 659.6,325 659,328.4 657.6,327Z" fill="#e1d0be"/>
<path d="M653.6,335.6 656.4,335 657,336.4 654,336.8Z" fill="#e1d0be"/>
<path d="M658.4,335 662.4,334 664.4,335.6 660,336.4Z" fill="#e1d0be"/>
<path d="M582.4,313.6 585,313 588,315 592,319 596,323.6 600,328 603.6,332 606.4,336 607.6,340 606,342.4 603,341 599.6,338 596,333.6 592.4,329 589,324 585.6,319 583,315.6Z" fill="#e1d0be"/>
<path d="M606,343 610,342.4 616,344 622,346 628,347.6 629,349.2 624,349.2 618,348 612,346.4 607,345Z" fill="#e1d0be"/>
<path d="M631,349 633.6,348.4 636,349.2 633.6,350.4Z" fill="#e1d0be"/>
<path d="M638,348.4 642,348 645.6,348.4 645,350 640,350Z" fill="#e1d0be"/>
<path d="M637,351.6 640,352.4 639,353.6Z" fill="#e1d0be"/>
<path d="M646.4,353 649,351 653,349 656,348.4 655.6,350 652,352 648.4,354Z" fill="#e1d0be"/>
<path d="M664,330 667,328.4 671,329 673,332 676,333.6 680,331.6 685,332 690,335 695,338 699,341 702,344 704.4,348 707,352 709,354.4 706,354 702,351.6 698,349 694,348 690,350 686,349.6 682,349 679.6,348 680.4,344 678,340 674,338 670,336.4 671,334 667.6,332.4Z" fill="#e1d0be"/>
<path d="M672,341 673.2,341.6 672.8,344Z" fill="#e1d0be"/>
<path d="M704.4,341.6 708,341 711.6,339 714.4,336.4 715,334.4 713,334 712,336.4 709,338.4 705.6,340Z" fill="#e1d0be"/>
<path d="M719,341 721,342.4 723,344.4 721.4,343.6Z" fill="#e1d0be"/>
<path d="M725,345.6 728,347.6 726.6,347.4Z" fill="#e1d0be"/>
<path d="M730,349 733,351 731.6,350.6Z" fill="#e1d0be"/>
<path d="M734,353 735.6,355 734.6,354.6Z" fill="#e1d0be"/>
</g>
<g stroke="#2b2b2b" stroke-opacity="0.45" stroke-width="0.65" fill="none" stroke-linejoin="round">
<path d="M160.33,279.67 162.5,279.17 162,283.33 160.83,285"/>
<path d="M160.83,285 159.17,287.5 157.5,290 155,290.83"/>
<path d="M160.83,285 164.17,285.83 168.33,285.33"/>
<path d="M172.5,288.33 169.17,290.83 165.83,292 163.33,294.17"/>
<path d="M157.5,290 160,290.83 163,293"/>
<path d="M165.83,298.33 169.17,299.17 172,297.5"/>
<path d="M172,302 173.67,304.17"/>
<path d="M223,304 222,308 223.6,311.6 222,315"/>
<path d="M208,319 212,322 214,319 218,317 222,315.6 225,323 229,323 232,322.4 238,321 241,321"/>
<path d="M225,306 223.6,310 225,314 224.4,319 225,323"/>
<path d="M232,311 230,315 231,319 232,322.4"/>
<path d="M176,338 179,340 182,337 187,333 190,329 189,326 188,325"/>
<path d="M201.6,338 197,340 194.4,343 193.6,347 195.6,350.4 199,353 202.4,352.4 203,355.6"/>
<path d="M203,355.6 205,360 204.4,366 204,371 203,374.4"/>
<path d="M203,355.6 208,354.4 212.4,352.4 214,357 219,360 223.6,362 226,368 230,370 231.6,374 232,378"/>
<path d="M232,378 227,377.6 223,378.4 221.6,382 220,384.4"/>
<path d="M232,378 234,383 238,385 241,389 242,394.4"/>
<path d="M208.4,386 208,392 207.6,398 208.4,404 209,410 209.6,416 210,422 211,428 212,434 213.6,440 215,446 217,452 218,457 219,461 222,462.4 225,463"/>
<path d="M225.6,463 225,467"/>
<path d="M235,406 235.6,418"/>
<path d="M383,174.75 384.25,171.88 384,168.75 384.88,165.62 386.12,162.5 388,160 389.88,157.5 391.75,155 394.25,153.5 396.75,152.25 399.25,151.25 401.12,150.62"/>
<path d="M401.12,150.62 402.38,153.12 403.62,156.25 404.25,158.12 404.88,159"/>
<path d="M401.12,150.62 404.25,151.25 406.75,150 409.88,150.62 412.38,151.88"/>
<path d="M347.65,184.71 348.24,186.18 349.71,186.76 350.88,186.18 351.76,185.88"/>
<path d="M687.6,334 687.6,349.6"/>
<path d="M360,235.33 360.33,240.83 355.83,244.17 352.5,247.5 347.5,250 344.17,252.5 343.33,255.83"/>
<path d="M334.67,255.83 343.33,255.83 343.33,260 337.5,260.33 336.67,264.17 333.67,265 333,269.17 327.5,270.83 325,271.33"/>
<path d="M343.33,255.83 349.67,260.83 361.67,270 371.67,277 380,271.67 388.33,266.33"/>
<path d="M349.67,260.83 350.33,273.33 350.83,286.67 338.33,287.5 335.83,288.33"/>
<path d="M388.33,266.33 384.17,260 383.67,253.33 384.17,247.5"/>
<path d="M379.67,232.5 379.17,239.17 381.67,242.5 384.17,247.5 386.67,244.17 388,240.83"/>
<path d="M388.33,266.33 395.83,268 418.33,275.33"/>
<path d="M417.5,243.33 418.67,270 418.33,275.33"/>
<path d="M418.67,270 444.17,270"/>
<path d="M395.83,268 397.5,275 397,282.5 394.17,287.5 394.67,291.67"/>
<path d="M371.67,277 372,284.17 368.33,286.33 363.67,288.33 360,288 355.83,290.83 352.5,293.33 350.83,296.67 350.83,299.17"/>
<path d="M363.67,288.33 365.83,290.83 368.33,294.17 370,295.83"/>
<path d="M371.67,291.67 375,290.83 380,292.5 386.67,292.5 391.67,291.67 394.67,291.67"/>
<path d="M371.67,291.67 370,295.83 369.67,303.33 369.17,309.17"/>
<path d="M394.67,291.67 395.83,295 394.17,299.17 391.67,303.33 388.33,306.67 385,308.33 383,311.67 383.33,315"/>
<path d="M394.67,291.67 396.67,296.67 395.83,299.17 398,306.67 403.33,305 408.33,302.5 413.33,299.17 415,297.5"/>
<path d="M418.33,275.33 417.5,283.33 414.17,289.17 415,295 415,297.5 419.17,303.33"/>
<path d="M419.17,303.33 420,300.83 426.67,302.5 431.67,300.83 435.83,298.33 436.67,295 439.17,295.83 439.67,299.17 443.33,296.67 445.83,291.67"/>
<path d="M445.83,291.67 447.5,286.67 449.17,282.5 453.33,280"/>
<path d="M419.17,303.33 423.33,308.33 428.33,311.67 435,315 440,315.83 444.17,313.33"/>
<path d="M445.83,291.67 442.5,301.67 440,306.67 444.17,313.33 448.33,317.5"/>
<path d="M398,306.67 396.67,311.67 400,315.83 405.83,315 411.67,313.33 418.33,314.17 423.33,308.33"/>
<path d="M325,285 330,283.33 335.83,288 336.67,293.33 338.33,295.83"/>
<path d="M325,292 331.67,291.67"/>
<path d="M325,293.33 331.67,293"/>
<path d="M327.5,296.67 332.5,295 338.33,295.83 343.33,298.33 345,300.83"/>
<path d="M334.17,300.83 336.67,300 339.17,303.33 342.5,305.83"/>
<path d="M336.67,305 339.17,303.33"/>
<path d="M345,300.83 343.33,305 345,310 345.83,313.33"/>
<path d="M345,300.83 350.83,299.17 355.83,298.33 360,297.5 363.67,299.17 365.83,298.33 368.33,295.83 370,295.83"/>
<path d="M355.83,298.33 355.33,305 355.83,311.67"/>
<path d="M363.33,299.17 363.67,305 364.67,310"/>
<path d="M365.83,298.33 366.33,309.17"/>
<path d="M368.33,296.67 369.17,309.17"/>
<path d="M383.33,321.67 389.17,321.67 395,321.33 399.67,320"/>
<path d="M395,321.33 395.83,326.67 394.17,330.83 390.83,333.33 390,337.5 391.67,340"/>
<path d="M384.17,321.67 384.67,324.67 388.33,324.67 389.17,321.67"/>
<path d="M399.67,320 402.5,318.33 405,316.67 404.17,323.33 401.67,330 399.17,335 396.67,339.17 391.67,340.83"/>
<path d="M405,316.67 410,315 415,315.83 420,314.17 425,313.33 430,314.67 434.17,316.67"/>
<path d="M395.83,312.5 397.5,308.33 399.17,315.83 399.67,320"/>
<path d="M434.17,316.67 433,321.67 430.83,326.67 430,332.5 430.33,337.5 430.83,342.5 432.5,347.5 429.17,350 428.33,355 429.17,360 426.67,358.33 422.5,357.5 418.33,355.83 414.67,355"/>
<path d="M391.67,341.67 400,342.5 402.5,346.67 407.5,347.5 410,345.83 413.33,348.33 414.17,355 417.5,355.83 416.67,360 413,361.33 412.5,367.5 414.67,372.5"/>
<path d="M389.67,371.67 396.67,372.5 406.67,373 414.67,372.5 420,372"/>
<path d="M410,373.33 409.67,386.67 408,387.5 408,396.67"/>
<path d="M420,372.5 425,370 431.67,367.5 435.83,366.67 438,369.17 437.5,375 435.83,380 432.5,383.33 428.33,383.33 425,380 421.67,375.83 420,372.5"/>
<path d="M432.5,347.5 436.67,350 439.17,351.67 438.33,356.67 437.5,362.5 433.33,364.17 431.67,367.5"/>
<path d="M439.17,351.67 440.83,355.83 441.67,360 443.33,364.17 444.17,368.33 442,370 440.83,365.83 439.17,362.5 438.33,356.67"/>
<path d="M434.17,330 441.67,330.33 453.33,337.5"/>
<path d="M441.67,358.33 448.33,357.5 455.33,355"/>
<path d="M434.17,316.67 436.67,317.5 441.67,316.67 443.33,320 441.67,325 441.67,330.33"/>
<path d="M430.83,331.67 434.17,330.83 434.17,335 430.83,335.83"/>
<path d="M430.83,333.67 434.17,333"/>
<path d="M441.67,316.67 444.17,314.17 450,316.67 456.67,317.5 460.83,315.83"/>
<path d="M457.5,317.5 458,325 459.17,330.83"/>
<path d="M434.17,316.67 436.67,313.33 441.67,312.5 444.17,314.17"/>
<path d="M460.83,315.83 471.67,306.67 465,301.67 461.67,300"/>
<path d="M435.83,380 434.17,385 434.17,390"/>
<path d="M462.5,205.83 458.33,202.5 457.5,198.33 459.17,194.17 463.33,192.5 471.67,193 480,191.33 483.33,190"/>
<path d="M475,217.5 478.33,215 479.17,210.83 481.67,209.17 487.5,210 490.83,213.33 494.17,215.83 498.33,215 501.67,216.67 505,219.17 509.17,220 511.67,217.5 515,215.83 520.83,215 526.67,215.83 530.83,215"/>
<path d="M530.83,215 530,210.83 532.5,208.33 531.67,205 535,204.17 538.33,200"/>
<path d="M516.67,190 523.33,194.17 530,196.67 538.33,200"/>
<path d="M478.33,215 481.67,217.5 487.5,216.67 490,219.17 495.83,222.5 500,225.83 504.17,227.5 507,229.17"/>
<path d="M478.33,229.67 481.67,228.33 487.5,227.5 493.33,230 495.83,234.17 499.17,234.67 503.33,230.83 507,229.17"/>
<path d="M507,229.17 509.17,225.83 507.5,223.33 510.83,221.67 513.33,219.17 509.17,220"/>
<path d="M513.33,219.17 516.67,220 520.83,219.17 525,217.5 530.83,215"/>
<path d="M510.83,221.67 515,222.5 519.17,221.67 520.83,219.17"/>
<path d="M509.17,225.83 513.33,225 516.67,227.5 520.83,229.17 523.33,227.5 520,224.17 519.17,221.67"/>
<path d="M507,229.17 513.33,229.17 516.67,227.5"/>
<path d="M520.83,229.17 525.83,230 530,231.67"/>
<path d="M530,231.67 525,234.17 523.33,236.67 518.33,240.83 516.67,245 513.33,247.5 508.33,250 503.33,250.33 499.17,249.67"/>
<path d="M495.83,234.17 495,240 496.67,245 499.17,249.67 501.67,254.17 503.33,256.67 500.83,260.83"/>
<path d="M525.83,235 527.5,241.67 524.17,245.83 525.83,250 522.5,254.17 518.33,256.67 520.83,260 522.5,263.33 517.5,263.33"/>
<path d="M530,231.67 533.33,235.83 536.67,240 535.83,243.33 540.83,247.5"/>
<path d="M457.5,221.67 459.17,225.83 458.33,229.17 460.83,233.33 463.33,238.33 466.67,243.33 469.17,247.5 470,249.17"/>
<path d="M450,213.33 455,215 460,216.67 463.33,218.33 465.83,220"/>
<path d="M451.67,216.67 455.83,220 457.5,221.67 460.83,223.33 463.33,225 465.83,222.5 468.33,225 469.17,227.5"/>
<path d="M455.83,220 460.83,220.83 465.83,220"/>
<path d="M441.67,231.67 446.67,231.33 452.5,230.83 457.5,230 458.33,229.17"/>
<path d="M452.5,230.83 451.67,235.83 446.67,238.33 450.83,241.67 456.67,245.83 463.33,249.17 468.33,250.83 470,249.17"/>
<path d="M440.33,240 442.5,240 446.67,238.33"/>
<path d="M440.33,250.83 443.33,249.17 446.67,245.83 445,243 450,240.83"/>
<path d="M438,247.5 440.33,250.83"/>
<path d="M440.33,240 441.67,243.33 440.83,247.5 440.33,250.83"/>
<path d="M460,284.71 461.76,281.76 465.88,281.18 470.59,282.35 474.12,279.41 481.18,277.06 484.12,284.12"/>
<path d="M481.18,277.06 487.06,274.71 488.82,268.82 487.65,267.65 481.18,266.47 479.41,264.12"/>
<path d="M488.82,268.82 488.24,265.29 488,260.82 489.41,259.41"/>
<path d="M467.06,251.18 468.24,248.82 470,249.41"/>
<path d="M538.75,199.5 545,195.5 552.5,196.25 558.75,192.5 565,194.5 572.5,197 580,198 587.5,198.75 593.75,197.5 598.25,197.5 597,199.75 598.75,202 602.75,202.75 605.75,204 607.5,205 604.5,206.25 601,208 597.5,209.75 594.75,210.25 595.25,212.5 593.5,215 590,216.5 582.5,217.5 575,217 567.5,215 560,213 552.5,211.25 547.5,207.5 543.75,203.75 540,201.25 538.75,199.5"/>
<path d="M483.25,190 483.75,186.25 488.75,185 495,183 501.25,185 506.25,188 511.25,186.25 516.75,190"/>
<path d="M376.5,188.5 376,191 375,193.5 375.8,196 377.5,197.5 378.5,199.5 378,201.5 377,203.5"/>
<path d="M377,203.5 380,203.2 383,203.5 386,204 389,203 389.5,201.5 388,199 387.5,196.5 389.5,195 391.5,194 391,191 390.5,188.5"/>
<path d="M389.5,201.5 392.5,201 395.5,200 398,199.5 400,198.5"/>
<path d="M391.5,194 394.5,195 397,196.5 400,198.5 403.5,198.5 407,198.8 408.5,199.5"/>
<path d="M398,199.5 399,201.5 402,201.2 405,200.5 408.5,199.5"/>
<path d="M386,204 387,205.5 390,206 393.5,205.8 396.5,204.5 398,202.5 399,201.5"/>
<path d="M377,203.5 378.5,205.5 377.5,207.5 379,209"/>
<path d="M394,208.5 396.2,207.8 399,207.5 402,207 403,209 401,210 398.5,209.5 397,210.5 399,213 402,215.5 404,217.5"/>
<path d="M403,209 403.5,212 404.5,214.5 403,216"/>
<path d="M402,207 405,205.5 407.5,207 409.5,209.5 411,211 410,213.5 410.5,216 408.5,218.5 406,217.5 404.5,214.5"/>
<path d="M407.5,203.5 407.5,207"/>
<path d="M409.5,209.5 413,211.5 417,212 420,211 422.5,211.5"/>
<path d="M417.5,201.5 420,202.5 422,205 423.5,207.5"/>
<path d="M410.5,216 413,218 416.5,218.5 420,217.5 421,218.5"/>
<path d="M403,216 404.5,217.5 405.5,219.5 405,222 406.5,224.5"/>
<path d="M404,217.5 403.5,220 404.5,223 406.5,224.5 407.5,222 407,219.5 405.5,218"/>
<path d="M407.5,222 410.5,221 413,220 416.5,219.5 420,218.5"/>
<path d="M403.5,184.5 406.5,183 410,182.5 413,183.5 414,185.5 412.5,187.5 410,188.5 407.5,188.5 404.5,187 403.5,184.5"/>
<path d="M401,185.5 404,184.8"/>
<path d="M414,185.5 417,183 421,182.5 424,184.5 426,187.5 425.5,190 427,192 424.5,193"/>
<path d="M410,193.5 414,193 418,193.5 422,192.5 424.5,193"/>
<path d="M370,194 372,193 375,193.5"/>
<path d="M370,194 372.5,196 375.8,196"/>
<path d="M589,270 586,272 584,276 584.4,280 586.4,284 587.6,289 587.6,293"/>
<path d="M589,270 591,268 595,267 598,269"/>
<path d="M595,267 599,266 603,267 607,270 610,272"/>
<path d="M598,269 600,272 598,274 601,277 604,280 607,284 609,289 608,292"/>
<path d="M589,270 590,274 593,275 594,279 597,278 600,281 602,285 603,289 605,291 608,292"/>
<path d="M596,293 597,290 600,289 603,289"/>
<path d="M608,292 609,295 607,298 604.4,299.6 602,299"/>
<path d="M593.6,309.6 596,310.4"/>
<path d="M615.6,323 619,324.4 622.4,323.6 625.6,320.4 629,319 632,317 634.4,316"/>
<path d="M598.17,197.42 599.33,193.33 598.17,190.42 600.5,188.43 605.17,188.08 608.67,188.67 612.17,191 615.67,194.5 619.17,197.42 623.84,198.58 628.5,200.92 632,202.08 634.92,200.92 636.67,201.5 637.84,205 637.6,208.5 634.92,210.25 636.67,212.59 637.6,214.92 637.25,216.09"/>
<path d="M627.34,223.09 629.09,220.17 631.42,218.42 633.75,217.25 636.09,216.09 637.25,215.74"/>
<path d="M634.1,227.99 637.6,226.59"/>
<path d="M540.59,249.12 543.53,247.35 548.24,249.71 552.94,252.41 557.65,254.41 560.59,255 560.24,257.94 556.47,257.35 551.76,255.59 547.06,253.82 542.35,251.71 540.59,250.29 540.59,249.12"/>
<path d="M561.76,254.41 565.29,253.59 568.24,254.41 567.65,256.76 564.12,257.35 561.76,256.76 561.76,254.41"/>
<path d="M568.24,254.41 570.59,252.06 573.53,250.29 576.47,250.06 577.65,252.06 580.59,253.24"/>
<path d="M580.59,253.24 583.76,256.18 584.47,259.47 582.35,262.06 584.71,265 587.65,267.35 589.18,270.29"/>
<path d="M577.65,252.06 578.82,255 577.65,257.94 575.88,260.88 574.71,263.82 573.53,266.76 572,269.71 571.53,272.65"/>
<path d="M560.59,257.94 561.76,260.88 561.18,263.82 562.94,266.76 564.12,269.71"/>
<path d="M560.59,257.94 564.71,259.12 568.24,259.71 570.59,260.29 570,262.65 568.82,264.41 570.59,265.59 571.76,267.94 572,269.71"/>
</g>
<!--/MAP-->
</svg>
<div id="title"><span id="tb">Which countries have a carbon tax?</span><span style="font-weight:normal;font-size:21px;letter-spacing:0;position:absolute;left:409.5px;top:1.5px;display:inline-block;transform:scaleX(1.24);transform-origin:left center;-webkit-text-stroke:0.35px #383838" id="yr">2024</span></div>
<div id="sub">A country is marked as having a carbon emissions tax instrument if at least one sector has implemented one.</div>
<div id="logo"><span style="margin-top:5px">Our World</span><span>in Data</span></div>
<div class="sw" style="left:115px;background:#41896a;border-color:rgba(0,0,0,0.28)"></div><div class="leg" style="left:133px" id="l1">Has a carbon tax</div>
<div class="sw" style="left:251px;background:#c1e0b8;border-color:rgba(0,0,0,0.28)"></div><div class="leg" style="left:270px" id="l2">Carbon tax only at the sub-national level</div>
<div class="sw" style="left:538px;background:#e1d0be;border-color:rgba(0,0,0,0.28)"></div><div class="leg" style="left:557px" id="l3">No carbon tax</div>
<svg class="sw" style="left:659px;border:none" width="14" height="14"><rect x="0.5" y="0.5" width="13" height="12.5" fill="url(#hatch)" stroke="#b4b4b4"/></svg><div class="leg" style="left:678px" id="l4">No data</div>
<div id="src"><b style="font-size:12.7px;letter-spacing:-0.38px">Data source:</b> Dolphin and Merkle (2024)</div>
<div id="url">OurWorldinData.org/co2-and-greenhouse-gas-emissions | CC BY</div>
</body></html>
